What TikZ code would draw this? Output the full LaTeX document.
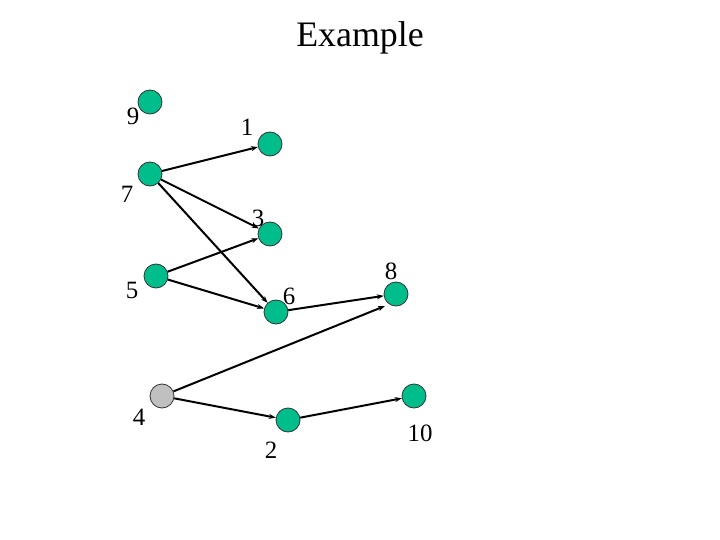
\documentclass[tikz,border=0pt]{standalone}
\usepackage{fontspec}
\setmainfont{Liberation Serif}
\usetikzlibrary{arrows.meta}
\definecolor{nodegreen}{RGB}{0,190,140}
\definecolor{nodegray}{RGB}{192,192,192}
\begin{document}
\begin{tikzpicture}[x=1bp,y=-1bp,
  vert/.style={circle,draw=black!80,line width=0.8bp,fill=nodegreen,minimum size=24bp,inner sep=0pt},
  grayvert/.style={vert,fill=nodegray},
  lab/.style={font=\fontsize{25}{28}\selectfont,inner sep=0pt},
  edge/.style={line width=2bp,-{Stealth[length=7bp,width=5bp]}}]
\useasboundingbox[fill=white] (0,0) rectangle (720,540);
\node[font=\fontsize{36}{40}\selectfont] (title) at (360,38) {Example};
\node[vert] (n9) at (150,102) {};
\node[vert] (n1) at (270,144) {};
\node[vert] (n7) at (150,174) {};
\node[vert] (n3) at (270,234) {};
\node[vert] (n5) at (156,276) {};
\node[vert] (n6) at (276,312) {};
\node[vert] (n8) at (396,294) {};
\node[grayvert] (n4) at (162,396) {};
\node[vert] (n2) at (288,420) {};
\node[vert] (n10) at (414,396) {};
\coordinate (e48) at (385,306);
\node[lab] (l9) at (133,116) {9};
\node[lab] (l1) at (247,127) {1};
\node[lab] (l7) at (127,194) {7};
\node[lab] (l3) at (258,218) {3};
\node[lab] (l5) at (132,290) {5};
\node[lab] (l6) at (289,296) {6};
\node[lab] (l8) at (391,271) {8};
\node[lab] (l4) at (139,417) {4};
\node[lab] (l2) at (271,450) {2};
\node[lab] (l10) at (420,433) {10};
\draw[edge] (n7) -- (n1);
\draw[edge] (n7) -- (n3);
\draw[edge] (n7) -- (n6);
\draw[edge] (n5) -- (n3);
\draw[edge] (n5) -- (n6);
\draw[edge] (n6) -- (n8);
\draw[edge] (n4) -- (e48);
\draw[edge] (n4) -- (n2);
\draw[edge] (n2) -- (n10);
\end{tikzpicture}
\end{document}
